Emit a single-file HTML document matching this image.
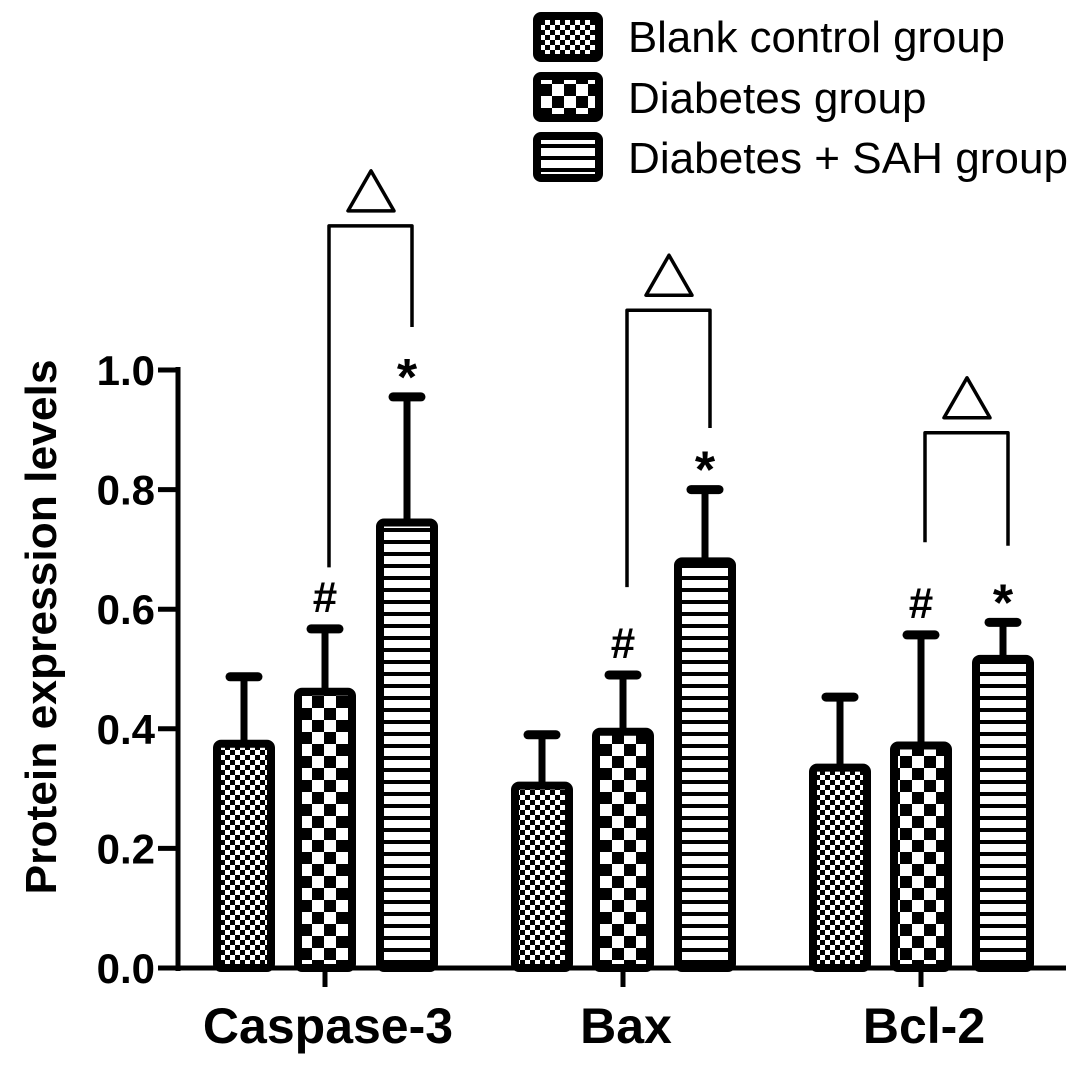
<!DOCTYPE html>
<html><head><meta charset="utf-8"><style>
body{margin:0;background:#fff}
svg{display:block;font-family:"Liberation Sans",Arial,sans-serif}
</style></head><body>
<svg id="chart" width="1087" height="1068" viewBox="0 0 1087 1068" xmlns="http://www.w3.org/2000/svg">
<defs>
<pattern id="pFine" width="10" height="10" patternUnits="userSpaceOnUse"><rect width="10" height="10" fill="#fff"/><rect width="5" height="5" fill="#000"/><rect x="5" y="5" width="5" height="5" fill="#000"/></pattern>
<pattern id="pCheck" width="24" height="24" patternUnits="userSpaceOnUse"><rect width="24" height="24" fill="#fff"/><rect width="12" height="12" fill="#000"/><rect x="12" y="12" width="12" height="12" fill="#000"/></pattern>
<pattern id="pStripe" width="10" height="12" patternUnits="userSpaceOnUse"><rect width="10" height="12" fill="#fff"/><rect y="0" width="10" height="4" fill="#000"/></pattern>
</defs>
<g id="legend">
<g><rect x="537" y="16" width="62" height="42" rx="4" fill="url(#pFine)" stroke="#000" stroke-width="8"/><text x="628" y="52" font-size="44" textLength="377" lengthAdjust="spacingAndGlyphs">Blank control group</text></g>
<g><rect x="537" y="76" width="62" height="42" rx="4" fill="url(#pCheck)" stroke="#000" stroke-width="8"/><text x="628" y="113" font-size="44">Diabetes group</text></g>
<g><rect x="537" y="136" width="62" height="42" rx="4" fill="url(#pStripe)" stroke="#000" stroke-width="8"/><text x="628" y="173" font-size="44" textLength="440" lengthAdjust="spacingAndGlyphs">Diabetes + SAH group</text></g>
</g>
<g id="plot"></g>
<text transform="translate(56,627) rotate(-90)" text-anchor="middle" font-size="44" font-weight="bold" textLength="535" lengthAdjust="spacingAndGlyphs">Protein expression levels</text>
</svg>
<script>
const categories = ["Caspase-3","Bax","Bcl-2"];
const blankValues = [0.375,0.305,0.335];
const blankErr = [0.112,0.085,0.118];
const diabetesValues = [0.462,0.395,0.372];
const diabetesErr = [0.105,0.095,0.185];
const sahValues = [0.745,0.68,0.517];
const sahErr = [0.21,0.12,0.061];
const yTicks = [0,0.2,0.4,0.6,0.8,1.0];
const yTickLabels = ["0.0","0.2","0.4","0.6","0.8","1.0"];
const bracketTopValues = [1.241,1.1,0.895];
const bracketLeftEnd = [0.67,0.637,0.712];
const bracketRightEnd = [1.072,0.903,0.706];
const diabetesMarks = ["#","#","#"];
const sahMarks = ["*","*","*"];

const NS="http://www.w3.org/2000/svg";
const g=document.getElementById('plot');
const y0=968, yPer=598;
const y=v=>y0-v*yPer;
const groupX=i=>325+i*298;
const offsets=[-81,0,82];
const fills=["url(#pFine)","url(#pCheck)","url(#pStripe)"];
const series=[[blankValues,blankErr,"blank"],[diabetesValues,diabetesErr,"diabetes"],[sahValues,sahErr,"sah"]];
function mk(tag,attrs,parent){const e=document.createElementNS(NS,tag);for(const k in attrs)e.setAttribute(k,attrs[k]);(parent||g).appendChild(e);return e;}
const ya=mk('line',{x1:178,y1:367,x2:178,y2:971,stroke:'#000','stroke-width':5});


const xa=mk('line',{x1:176,y1:968,x2:1066,y2:968,stroke:'#000','stroke-width':5});


yTicks.forEach((t,i)=>{
  const tk=mk('line',{x1:158,y1:y(t),x2:178,y2:y(t),stroke:'#000','stroke-width':5});
  
  
  const tl=mk('text',{x:155,y:y(t)+15,'text-anchor':'end','font-size':42,'font-weight':'bold'});
  tl.textContent=yTickLabels[i];
  
  
});
categories.forEach((c,i)=>{
  const gx=groupX(i);
  const tk=mk('line',{x1:gx,y1:968,x2:gx,y2:987,stroke:'#000','stroke-width':5});
  
  
  const lb=mk('text',{x:gx+3,y:1043,'text-anchor':'middle','font-size':50,'font-weight':'bold'});
  lb.textContent=c;
  
  
  series.forEach((s,j)=>{
    const cx=gx+offsets[j], v=s[0][i], e=s[1][i];
    const el=mk('line',{x1:cx,y1:y(v),x2:cx,y2:y(v+e),stroke:'#000','stroke-width':7});
    
    
    const cap=mk('line',{x1:cx-14,y1:y(v+e),x2:cx+14,y2:y(v+e),stroke:'#000','stroke-width':9,'stroke-linecap':'round'});
    
    
    const r=mk('rect',{x:cx-27,y:y(v),width:54,height:y0-y(v),rx:4,fill:fills[j],stroke:'#000','stroke-width':8});
    
    
  });
  const xd=gx+offsets[1], xs=gx+offsets[2];
  const m1=mk('text',{x:xd,y:y(diabetesValues[i]+diabetesErr[i])-17,'text-anchor':'middle','font-size':44,'font-weight':'bold'});
  m1.textContent=diabetesMarks[i];
  
  
  const m2=mk('text',{x:xs,y:y(sahValues[i]+sahErr[i])-2,'text-anchor':'middle','font-size':52,'font-weight':'bold'});
  m2.textContent=sahMarks[i];
  
  
  const bt=y(bracketTopValues[i]);
  const br=mk('path',{d:`M${xd+4},${y(bracketLeftEnd[i])} V${bt} H${xs+5} V${y(bracketRightEnd[i])}`,fill:'none',stroke:'#000','stroke-width':3.5,'stroke-linejoin':'round'});
  
  
  const tm=(xd+xs)/2+5;
  const tri=mk('path',{d:`M${tm-23},${bt-15} L${tm+23},${bt-15} L${tm},${bt-55} Z`,fill:'#fff',stroke:'#000','stroke-width':3.5,'stroke-linejoin':'round'});
  
  
});
</script>
</body></html>
